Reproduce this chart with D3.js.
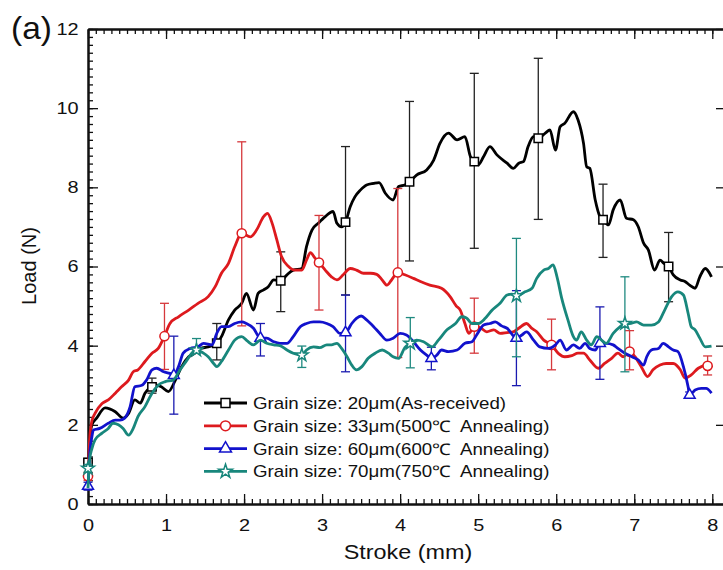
<!DOCTYPE html>
<html>
<head>
<meta charset="utf-8">
<script src="https://cdn.jsdelivr.net/npm/d3@7"></script>
<style>
  body { margin: 0; background: #fff; }
  svg { display: block; font-family: "Liberation Sans", Arial, sans-serif; }
  #legend text { white-space: pre; }
</style>
</head>
<body>
<svg id="chart"></svg>
<script>
// Curves: stroke (mm) and load (N)
const stroke20 = [0,0.02,0.05,0.11,0.22,0.35,0.45,0.52,0.6,0.67,0.73,0.82,0.88,0.94,1.03,1.12,1.2,1.29,1.37,1.44,1.54,1.65,1.71,1.8,1.88,1.97,2.03,2.12,2.18,2.25,2.31,2.38,2.47,2.55,2.63,2.74,2.8,2.87,2.95,3.04,3.14,3.19,3.25,3.3,3.36,3.42,3.49,3.57,3.66,3.73,3.81,3.91,3.98,4.06,4.12,4.21,4.34,4.43,4.51,4.62,4.73,4.83,4.9,4.95,5.0,5.07,5.15,5.24,5.37,5.45,5.52,5.58,5.64,5.71,5.77,5.86,5.92,5.99,6.05,6.11,6.22,6.28,6.35,6.39,6.43,6.5,6.56,6.6,6.67,6.73,6.82,6.9,6.99,7.05,7.12,7.18,7.26,7.33,7.38,7.44,7.5,7.59,7.65,7.71,7.78,7.84,7.91,7.99];
const load20 = [0.5,1.5,2.0,2.17,2.43,2.33,2.17,2.29,2.63,2.55,2.8,2.96,3.0,2.96,2.84,3.13,3.47,3.72,3.81,3.93,3.97,4.06,4.23,4.65,4.9,5.07,5.32,4.9,5.32,5.41,5.49,5.66,5.64,5.79,5.91,5.95,6.5,6.92,7.09,7.26,7.39,7.09,7.0,7.12,7.51,7.76,7.93,8.06,8.1,8.12,7.85,7.68,8.02,8.06,8.14,8.31,8.44,8.69,9.11,9.37,9.2,9.28,8.78,8.65,8.57,8.78,9.03,8.82,8.61,8.48,8.61,8.65,9.03,9.28,9.24,9.37,9.45,8.94,9.53,9.62,9.91,9.7,9.11,8.52,8.48,7.68,7.26,7.18,7.05,7.43,7.68,7.22,7.18,7.01,6.59,6.42,5.91,6.16,6.08,6.0,5.79,5.66,5.62,5.53,5.45,5.74,5.95,5.74];

const stroke33 = [0,0.02,0.05,0.09,0.18,0.26,0.35,0.43,0.52,0.58,0.64,0.73,0.82,0.9,0.98,1.05,1.16,1.29,1.41,1.54,1.63,1.71,1.8,1.88,1.97,2.08,2.16,2.25,2.3,2.36,2.42,2.48,2.57,2.65,2.74,2.8,2.85,2.91,2.96,3.04,3.12,3.19,3.27,3.36,3.44,3.53,3.62,3.7,3.77,3.83,3.89,3.97,4.06,4.17,4.26,4.38,4.53,4.64,4.72,4.77,4.83,4.88,4.95,5.03,5.11,5.2,5.28,5.37,5.45,5.52,5.62,5.68,5.75,5.84,5.94,6.03,6.11,6.2,6.28,6.35,6.43,6.54,6.62,6.71,6.79,6.86,6.94,7.01,7.09,7.17,7.24,7.33,7.41,7.5,7.59,7.65,7.73,7.82,7.94,8.0];
const load33 = [0.6,1.6,2.1,2.29,2.54,2.63,2.8,2.96,3.13,3.34,3.39,3.6,3.81,3.93,4.24,4.56,4.73,4.9,5.07,5.24,5.49,5.83,6.08,6.5,6.84,6.75,6.92,7.26,7.34,7.09,6.67,6.25,6.0,5.91,5.91,6.16,6.35,6.21,6.1,5.91,5.74,5.66,5.79,5.95,5.91,5.83,5.83,5.8,5.66,5.53,5.66,5.85,5.79,5.7,5.62,5.53,5.45,5.24,5.0,4.9,4.56,4.31,4.48,4.45,4.35,4.4,4.31,4.33,4.35,4.44,4.56,4.45,4.35,4.14,4.02,3.8,3.72,3.75,3.81,3.81,3.64,3.43,3.55,3.68,3.81,3.72,3.85,3.72,3.47,3.22,3.39,3.51,3.55,3.55,3.39,3.18,3.26,3.43,3.51,3.45];

const stroke60 = [0,0.02,0.05,0.07,0.15,0.26,0.35,0.41,0.47,0.54,0.6,0.69,0.75,0.82,0.88,0.97,1.05,1.1,1.16,1.22,1.31,1.41,1.48,1.59,1.65,1.71,1.8,1.88,1.97,2.03,2.12,2.21,2.29,2.38,2.46,2.55,2.63,2.72,2.8,2.89,2.97,3.06,3.14,3.23,3.3,3.38,3.44,3.5,3.57,3.66,3.74,3.83,3.91,4.0,4.08,4.17,4.26,4.34,4.4,4.47,4.53,4.62,4.73,4.83,4.92,4.98,5.07,5.15,5.22,5.3,5.37,5.49,5.56,5.62,5.71,5.79,5.9,5.99,6.05,6.13,6.22,6.3,6.37,6.43,6.5,6.56,6.64,6.73,6.79,6.88,6.97,7.05,7.12,7.16,7.22,7.31,7.37,7.44,7.5,7.56,7.63,7.69,7.71,7.78,7.86,7.92,7.99];
const load60 = [0.35,1.2,1.7,1.87,1.91,2.04,2.12,2.12,2.17,2.46,2.96,3.0,3.13,3.39,3.43,3.34,3.3,3.25,3.47,3.81,3.93,3.97,4.06,4.02,4.31,4.48,4.48,4.56,4.6,4.56,4.44,4.19,4.19,4.1,4.06,4.06,4.23,4.48,4.56,4.6,4.6,4.56,4.48,4.31,4.33,4.56,4.69,4.75,4.65,4.48,4.31,4.14,4.19,4.31,4.27,4.1,3.89,3.76,3.68,3.76,3.89,3.85,3.89,4.06,4.1,4.27,4.52,4.56,4.6,4.5,4.44,4.19,4.27,4.35,4.14,3.97,3.93,4.02,4.14,3.89,4.02,3.93,4.06,3.93,3.89,4.06,4.06,4.02,3.93,3.81,3.72,3.64,3.51,3.72,3.89,3.93,4.06,3.97,3.89,3.85,3.47,2.96,2.75,2.88,2.92,2.92,2.8];

const stroke70 = [0,0.02,0.05,0.09,0.18,0.26,0.32,0.39,0.45,0.52,0.58,0.64,0.73,0.82,0.9,0.99,1.09,1.18,1.27,1.33,1.39,1.48,1.54,1.61,1.65,1.71,1.8,1.88,1.97,2.04,2.12,2.21,2.29,2.38,2.46,2.55,2.63,2.74,2.8,2.89,2.97,3.06,3.12,3.19,3.25,3.32,3.38,3.44,3.51,3.59,3.68,3.77,3.85,3.91,3.98,4.06,4.13,4.21,4.3,4.41,4.49,4.6,4.71,4.79,4.85,4.92,5.0,5.09,5.18,5.28,5.37,5.43,5.49,5.6,5.69,5.75,5.84,5.9,5.96,6.01,6.07,6.15,6.22,6.26,6.32,6.39,6.45,6.52,6.58,6.64,6.73,6.82,6.88,6.94,7.03,7.12,7.22,7.31,7.39,7.48,7.56,7.63,7.69,7.73,7.78,7.84,7.91,7.99];
const load70 = [0.4,1.1,1.4,1.62,1.79,1.91,2.04,2.0,1.91,1.74,1.91,2.21,2.46,2.8,3.0,3.09,3.13,3.39,3.64,3.81,3.89,3.81,3.72,3.55,3.47,3.6,3.89,4.14,4.23,4.12,4.02,4.14,4.06,4.02,4.0,3.89,3.81,3.76,3.89,3.97,3.95,4.02,4.02,4.06,3.93,3.72,3.51,3.39,3.47,3.68,3.81,3.89,3.81,3.72,3.68,3.95,4.06,4.14,4.1,3.97,4.14,4.4,4.56,4.73,4.7,4.56,4.56,4.69,4.9,5.07,5.28,5.3,5.26,5.36,5.45,5.7,5.91,5.95,6.04,5.74,5.2,4.65,4.23,4.14,4.35,4.14,4.02,4.23,4.14,4.06,4.31,4.48,4.56,4.56,4.6,4.52,4.52,4.6,4.9,5.24,5.36,5.28,4.82,4.48,4.4,4.19,3.97,3.99];

// Marker points with error bars
const markX20 = [0,0.82,1.65,2.47,3.3,4.12,4.95,5.77,6.6,7.44];
const markY20 = [1.05,2.96,4.06,5.64,7.12,8.14,8.65,9.24,7.18,6.0];
const errLo20 = [0.95,2.8,3.64,4.86,5.28,6.14,6.46,7.19,6.23,5.11];
const errHi20 = [1.15,3.18,4.56,6.37,9.03,10.17,10.88,11.26,8.08,6.86];

const markX33 = [0,0.98,1.97,2.96,3.97,4.95,5.94,6.94,7.94];
const markY33 = [0.7,4.24,6.84,6.1,5.85,4.48,4.02,3.85,3.49];
const errLo33 = [0.6,3.4,4.5,4.9,3.7,3.81,3.39,3.39,3.26];
const errHi33 = [0.8,5.07,9.15,7.29,7.97,5.2,4.67,4.38,3.74];

const markX60 = [0,1.1,2.21,3.3,4.4,5.49,6.56,7.71];
const markY60 = [0.45,3.25,4.19,4.33,3.68,4.19,4.06,2.75];
const errLo60 = [0.35,2.27,3.74,3.34,3.39,2.99,3.15,2.67];
const errHi60 = [0.55,4.24,4.56,5.28,3.96,5.39,4.98,2.83];

const markX70 = [0,1.39,2.74,4.13,5.49,6.88];
const markY70 = [0.9,3.89,3.76,4.06,5.26,4.56];
const errLo70 = [0.8,3.81,3.45,3.44,3.72,3.34];
const errHi70 = [1.0,4.18,3.99,4.71,6.71,5.74];

const legendLabels = [
  'Grain size: 20\u03bcm(As-received)',
  'Grain size: 33\u03bcm(500\u2103  Annealing)',
  'Grain size: 60\u03bcm(600\u2103  Annealing)',
  'Grain size: 70\u03bcm(750\u2103  Annealing)'
];
const xTicks = [0, 1, 2, 3, 4, 5, 6, 7, 8];
const yTicks = [0, 2, 4, 6, 8, 10, 12];

// Layout
const WIDTH = 723, HEIGHT = 570;
const PLOT = { left: 88, top: 29, right: 724, bottom: 504 };
const SX = 1.17; // the original is a little stretched sideways
const FONT = '"Liberation Sans", Arial, sans-serif';

const svg = d3.select('#chart')
  .attr('width', WIDTH)
  .attr('height', HEIGHT);

const x = d3.scaleLinear().domain([0, 8.15]).range([PLOT.left, PLOT.right]);
const y = d3.scaleLinear().domain([0, 12]).range([PLOT.bottom, PLOT.top]);

const series = [
  { xs: stroke20, ys: load20, mx: markX20, my: markY20, lo: errLo20, hi: errHi20, color: '#000000', err: '#222222', symbol: d3.symbolSquare, size: 70 },
  { xs: stroke33, ys: load33, mx: markX33, my: markY33, lo: errLo33, hi: errHi33, color: '#dd1a1e', err: '#d6383c', symbol: d3.symbolCircle, size: 66 },
  { xs: stroke60, ys: load60, mx: markX60, my: markY60, lo: errLo60, hi: errHi60, color: '#1212cc', err: '#1a1ab0', symbol: d3.symbolTriangle, size: 52 },
  { xs: stroke70, ys: load70, mx: markX70, my: markY70, lo: errLo70, hi: errHi70, color: '#18877c', err: '#1f8a80', symbol: d3.symbolStar, size: 50 }
];

// Axes: minor ticks first, then majors with labels
function styleAxis(g) {
  g.select('.domain').attr('stroke', '#111').attr('stroke-width', 2);
  g.selectAll('.tick line').attr('stroke', '#111').attr('stroke-width', 1.3);
  g.selectAll('text').attr('font-family', FONT).attr('font-size', 17).attr('fill', '#111');
}

const minorX = d3.range(0, 81).map(d => d / 10);
const minorY = d3.range(0, 61).map(d => d / 5);

svg.append('g')
  .attr('transform', `translate(0,${PLOT.bottom})`)
  .call(d3.axisBottom(x).tickValues(minorX).tickSize(-5).tickSizeOuter(0).tickFormat(''))
  .call(styleAxis);
svg.append('g')
  .attr('transform', `translate(0,${PLOT.bottom})`)
  .call(d3.axisBottom(x).tickValues(xTicks).tickSize(-10).tickSizeOuter(0).tickPadding(15).tickFormat(d3.format('d')))
  .call(styleAxis)
  .selectAll('text').attr('transform', `scale(${SX},1)`);

svg.append('g')
  .attr('transform', `translate(0,${PLOT.top})`)
  .call(d3.axisTop(x).tickValues(minorX).tickSize(-5).tickSizeOuter(0).tickFormat(''))
  .call(styleAxis);
svg.append('g')
  .attr('transform', `translate(0,${PLOT.top})`)
  .call(d3.axisTop(x).tickValues(xTicks).tickSize(-10).tickSizeOuter(0).tickFormat(''))
  .call(styleAxis);

svg.append('g')
  .attr('transform', `translate(${PLOT.left},0)`)
  .call(d3.axisLeft(y).tickValues(minorY).tickSize(-5).tickSizeOuter(0).tickFormat(''))
  .call(styleAxis);
svg.append('g')
  .attr('transform', `translate(${PLOT.left},0)`)
  .call(d3.axisLeft(y).tickValues(yTicks).tickSize(-10).tickSizeOuter(0).tickPadding(8).tickFormat(d3.format('d')))
  .call(styleAxis)
  .selectAll('text').attr('transform', `scale(${SX},1)`);

svg.append('g')
  .attr('transform', `translate(${PLOT.right},0)`)
  .call(d3.axisRight(y).tickValues(yTicks).tickSize(-8).tickSizeOuter(0).tickFormat(''))
  .call(styleAxis);

// Curves, error bars and markers
const line = d3.line()
  .x(d => x(d[0]))
  .y(d => y(d[1]))
  .curve(d3.curveMonotoneX);

series.forEach(s => {
  const g = svg.append('g');
  const pts = s.xs.map((v, i) => [v, s.ys[i]]);

  g.append('path')
    .datum(pts)
    .attr('d', line)
    .attr('fill', 'none')
    .attr('stroke', s.color)
    .attr('stroke-width', 2.8)
    .attr('stroke-linejoin', 'round');

  const marks = s.mx.map((v, i) => ({ x: v, y: s.my[i], lo: s.lo[i], hi: s.hi[i] }));

  const err = g.selectAll('.err')
    .data(marks)
    .enter().append('g')
    .attr('stroke', s.err)
    .attr('stroke-width', 1.3);
  err.append('line')
    .attr('x1', d => x(d.x)).attr('x2', d => x(d.x))
    .attr('y1', d => y(d.lo)).attr('y2', d => y(d.hi));
  err.append('line')
    .attr('x1', d => x(d.x) - 4.5).attr('x2', d => x(d.x) + 4.5)
    .attr('y1', d => y(d.hi)).attr('y2', d => y(d.hi));
  err.append('line')
    .attr('x1', d => x(d.x) - 4.5).attr('x2', d => x(d.x) + 4.5)
    .attr('y1', d => y(d.lo)).attr('y2', d => y(d.lo));

  g.selectAll('.mark')
    .data(marks)
    .enter().append('path')
    .attr('transform', d => `translate(${x(d.x)},${y(d.y)})`)
    .attr('d', d3.symbol().type(s.symbol).size(s.size))
    .attr('fill', '#fff')
    .attr('stroke', s.color)
    .attr('stroke-width', 1.5);
});

// Legend
const legend = svg.append('g').attr('id', 'legend');
const legendRows = legend.selectAll('g')
  .data(series)
  .enter().append('g')
  .attr('transform', (d, i) => `translate(204,${403 + i * 22.8})`);

legendRows.append('line')
  .attr('x1', 0).attr('x2', 43)
  .attr('stroke', d => d.color)
  .attr('stroke-width', 2.8);
legendRows.append('path')
  .attr('transform', 'translate(21.5,0)')
  .attr('d', d => d3.symbol().type(d.symbol).size(d.size + 10)())
  .attr('fill', '#fff')
  .attr('stroke', d => d.color)
  .attr('stroke-width', 1.5);
legendRows.append('text')
  .attr('transform', `translate(49,6) scale(${SX},1)`)
  .attr('xml:space', 'preserve')
  .attr('font-family', FONT)
  .attr('font-size', 16)
  .attr('fill', '#111')
  .text((d, i) => legendLabels[i]);

// Axis titles and panel tag
svg.append('text')
  .attr('transform', `translate(408,559) scale(${SX},1)`)
  .attr('text-anchor', 'middle')
  .attr('font-family', FONT)
  .attr('font-size', 20)
  .attr('fill', '#111')
  .text('Stroke (mm)');

svg.append('text')
  .attr('transform', `translate(36,266) rotate(-90)`)
  .attr('text-anchor', 'middle')
  .attr('font-family', FONT)
  .attr('font-size', 20)
  .attr('fill', '#111')
  .text('Load (N)');

svg.append('text')
  .attr('transform', `translate(11,39) scale(1.08,1)`)
  .attr('font-family', FONT)
  .attr('font-size', 31)
  .attr('fill', '#111')
  .text('(a)');
</script>
</body>
</html>
